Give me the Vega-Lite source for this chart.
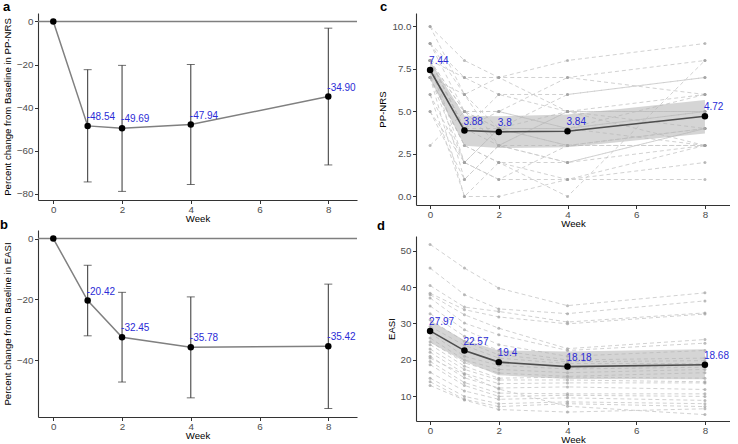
{
  "$schema": "https://vega.github.io/schema/vega-lite/v6.json",
  "padding": {"left": 0, "top": 1, "right": 0, "bottom": 0},
  "spacing": 19,
  "config": {
    "view": {"stroke": null},
    "font": "Liberation Sans",
    "axis": {"grid": false, "domainColor": "#333333", "domainWidth": 1.1, "tickColor": "#333333", "tickSize": 3.5, "tickWidth": 1, "labelColor": "#4d4d4d", "labelFontSize": 9.8, "labelFont": "Liberation Sans", "titleFont": "Liberation Sans", "titleFontSize": 9.6, "titleFontWeight": "normal", "titleColor": "#000000", "labelPadding": 1.5, "titlePadding": 3},
    "axisX": {"labelPadding": 0.5, "titlePadding": 0},
    "title": {"anchor": "start", "frame": "group", "fontSize": 13, "fontWeight": "bold", "font": "Liberation Sans", "color": "#000000"}
  },
  "datasets": {
    "a": [
      {"week": 0, "mean": 0, "label": ""},
      {"week": 1, "mean": -48.54, "lo": -74.6, "hi": -22.4, "label": "-48.54"},
      {"week": 2, "mean": -49.69, "lo": -79.0, "hi": -20.4, "label": "-49.69"},
      {"week": 4, "mean": -47.94, "lo": -75.8, "hi": -20.0, "label": "-47.94"},
      {"week": 8, "mean": -34.90, "lo": -66.7, "hi": -3.1, "label": "-34.90"}
    ],
    "b": [
      {"week": 0, "mean": 0, "label": ""},
      {"week": 1, "mean": -20.42, "lo": -32.0, "hi": -8.8, "label": "-20.42"},
      {"week": 2, "mean": -32.45, "lo": -47.2, "hi": -17.7, "label": "-32.45"},
      {"week": 4, "mean": -35.78, "lo": -52.4, "hi": -19.2, "label": "-35.78"},
      {"week": 8, "mean": -35.42, "lo": -55.9, "hi": -15.0, "label": "-35.42"}
    ],
    "cMean": [
      {"week": 0, "mean": 7.44, "lo": 6.9, "hi": 7.98, "label": "7.44"},
      {"week": 1, "mean": 3.88, "lo": 2.98, "hi": 4.75, "label": "3.88"},
      {"week": 2, "mean": 3.8, "lo": 2.85, "hi": 4.72, "label": "3.8"},
      {"week": 4, "mean": 3.84, "lo": 2.9, "hi": 4.82, "label": "3.84"},
      {"week": 8, "mean": 4.72, "lo": 3.71, "hi": 5.68, "label": "4.72"}
    ],
    "dMean": [
      {"week": 0, "mean": 27.97, "lo": 24.8, "hi": 30.8, "label": "27.97"},
      {"week": 1, "mean": 22.57, "lo": 19.6, "hi": 25.4, "label": "22.57"},
      {"week": 2, "mean": 19.4, "lo": 15.8, "hi": 22.6, "label": "19.4"},
      {"week": 4, "mean": 18.18, "lo": 14.8, "hi": 22.3, "label": "18.18"},
      {"week": 8, "mean": 18.68, "lo": 14.7, "hi": 22.9, "label": "18.68"}
    ],
    "cInd": [
      {"id": 1, "week": 0, "v": 10}, {"id": 1, "week": 1, "v": 8}, {"id": 1, "week": 2, "v": 7}, {"id": 1, "week": 4, "v": 8}, {"id": 1, "week": 8, "v": 9},
      {"id": 2, "week": 0, "v": 10}, {"id": 2, "week": 1, "v": 6}, {"id": 2, "week": 2, "v": 7}, {"id": 2, "week": 4, "v": 7}, {"id": 2, "week": 8, "v": 8},
      {"id": 3, "week": 0, "v": 9}, {"id": 3, "week": 1, "v": 7}, {"id": 3, "week": 2, "v": 6}, {"id": 3, "week": 4, "v": 6}, {"id": 3, "week": 8, "v": 7},
      {"id": 4, "week": 0, "v": 9}, {"id": 4, "week": 1, "v": 5}, {"id": 4, "week": 2, "v": 5}, {"id": 4, "week": 4, "v": 7}, {"id": 4, "week": 8, "v": 6},
      {"id": 5, "week": 0, "v": 9}, {"id": 5, "week": 1, "v": 6}, {"id": 5, "week": 2, "v": 4}, {"id": 5, "week": 4, "v": 6}, {"id": 5, "week": 8, "v": 7},
      {"id": 6, "week": 0, "v": 8}, {"id": 6, "week": 1, "v": 7}, {"id": 6, "week": 2, "v": 7}, {"id": 6, "week": 4, "v": 5}, {"id": 6, "week": 8, "v": 5},
      {"id": 7, "week": 0, "v": 8}, {"id": 7, "week": 1, "v": 5}, {"id": 7, "week": 2, "v": 3}, {"id": 7, "week": 4, "v": 5}, {"id": 7, "week": 8, "v": 6},
      {"id": 8, "week": 0, "v": 8}, {"id": 8, "week": 1, "v": 4}, {"id": 8, "week": 2, "v": 6}, {"id": 8, "week": 4, "v": 5}, {"id": 8, "week": 8, "v": 5},
      {"id": 9, "week": 0, "v": 8}, {"id": 9, "week": 1, "v": 4}, {"id": 9, "week": 2, "v": 5}, {"id": 9, "week": 4, "v": 4}, {"id": 9, "week": 8, "v": 6},
      {"id": 10, "week": 0, "v": 8}, {"id": 10, "week": 1, "v": 5}, {"id": 10, "week": 2, "v": 4}, {"id": 10, "week": 4, "v": 4}, {"id": 10, "week": 8, "v": 5},
      {"id": 11, "week": 0, "v": 8}, {"id": 11, "week": 1, "v": 4}, {"id": 11, "week": 2, "v": 3}, {"id": 11, "week": 4, "v": 3}, {"id": 11, "week": 8, "v": 4},
      {"id": 12, "week": 0, "v": 8}, {"id": 12, "week": 1, "v": 2}, {"id": 12, "week": 2, "v": 4}, {"id": 12, "week": 4, "v": 5}, {"id": 12, "week": 8, "v": 3},
      {"id": 13, "week": 0, "v": 8}, {"id": 13, "week": 1, "v": 4}, {"id": 13, "week": 2, "v": 4}, {"id": 13, "week": 4, "v": 3}, {"id": 13, "week": 8, "v": 4},
      {"id": 14, "week": 0, "v": 8}, {"id": 14, "week": 1, "v": 1}, {"id": 14, "week": 2, "v": 3}, {"id": 14, "week": 4, "v": 2}, {"id": 14, "week": 8, "v": 3},
      {"id": 15, "week": 0, "v": 7}, {"id": 15, "week": 1, "v": 3}, {"id": 15, "week": 2, "v": 2}, {"id": 15, "week": 4, "v": 0}, {"id": 15, "week": 8, "v": 8},
      {"id": 16, "week": 0, "v": 7}, {"id": 16, "week": 1, "v": 5}, {"id": 16, "week": 2, "v": 5}, {"id": 16, "week": 4, "v": 4}, {"id": 16, "week": 8, "v": 3},
      {"id": 17, "week": 0, "v": 7}, {"id": 17, "week": 1, "v": 2}, {"id": 17, "week": 2, "v": 1}, {"id": 17, "week": 4, "v": 1}, {"id": 17, "week": 8, "v": 1},
      {"id": 18, "week": 0, "v": 7}, {"id": 18, "week": 1, "v": 0}, {"id": 18, "week": 2, "v": 2}, {"id": 18, "week": 4, "v": 2}, {"id": 18, "week": 8, "v": 4},
      {"id": 19, "week": 0, "v": 7}, {"id": 19, "week": 1, "v": 3}, {"id": 19, "week": 2, "v": 2}, {"id": 19, "week": 4, "v": 1}, {"id": 19, "week": 8, "v": 3},
      {"id": 20, "week": 0, "v": 7}, {"id": 20, "week": 1, "v": 6}, {"id": 20, "week": 2, "v": 3}, {"id": 20, "week": 4, "v": 5}, {"id": 20, "week": 8, "v": 4},
      {"id": 21, "week": 0, "v": 6}, {"id": 21, "week": 1, "v": 2}, {"id": 21, "week": 2, "v": 1}, {"id": 21, "week": 4, "v": 3}, {"id": 21, "week": 8, "v": 3},
      {"id": 22, "week": 0, "v": 6}, {"id": 22, "week": 1, "v": 0}, {"id": 22, "week": 2, "v": 0}, {"id": 22, "week": 4, "v": 1}, {"id": 22, "week": 8, "v": 2},
      {"id": 23, "week": 0, "v": 5}, {"id": 23, "week": 1, "v": 1}, {"id": 23, "week": 2, "v": 3}, {"id": 23, "week": 4, "v": 2}, {"id": 23, "week": 8, "v": 4},
      {"id": 24, "week": 0, "v": 5}, {"id": 24, "week": 1, "v": 2}, {"id": 24, "week": 2, "v": 4}, {"id": 24, "week": 4, "v": 4}, {"id": 24, "week": 8, "v": 5},
      {"id": 25, "week": 0, "v": 3}, {"id": 25, "week": 1, "v": 5}, {"id": 25, "week": 2, "v": 4}, {"id": 25, "week": 4, "v": 3}, {"id": 25, "week": 8, "v": 3}
    ],
    "dInd": [
      {"id": 1, "week": 0, "v": 51.7}, {"id": 1, "week": 1, "v": 45.2}, {"id": 1, "week": 2, "v": 39.7}, {"id": 1, "week": 4, "v": 34.9}, {"id": 1, "week": 8, "v": 38.4},
      {"id": 2, "week": 0, "v": 45.2}, {"id": 2, "week": 1, "v": 37.9}, {"id": 2, "week": 2, "v": 34.0}, {"id": 2, "week": 4, "v": 32.7}, {"id": 2, "week": 8, "v": 36.2},
      {"id": 3, "week": 0, "v": 40.4}, {"id": 3, "week": 1, "v": 34.5}, {"id": 3, "week": 2, "v": 33.3}, {"id": 3, "week": 4, "v": 30.4}, {"id": 3, "week": 8, "v": 32.9},
      {"id": 4, "week": 0, "v": 38.3}, {"id": 4, "week": 1, "v": 33.8}, {"id": 4, "week": 2, "v": 31.8}, {"id": 4, "week": 4, "v": 29.9}, {"id": 4, "week": 8, "v": 32.6},
      {"id": 5, "week": 0, "v": 37.9}, {"id": 5, "week": 1, "v": 32.4}, {"id": 5, "week": 2, "v": 28.7}, {"id": 5, "week": 4, "v": 23.1}, {"id": 5, "week": 8, "v": 25.6},
      {"id": 6, "week": 0, "v": 37.0}, {"id": 6, "week": 1, "v": 30.1}, {"id": 6, "week": 2, "v": 26.9}, {"id": 6, "week": 4, "v": 22.6}, {"id": 6, "week": 8, "v": 24.6},
      {"id": 7, "week": 0, "v": 34.8}, {"id": 7, "week": 1, "v": 28.3}, {"id": 7, "week": 2, "v": 24.2}, {"id": 7, "week": 4, "v": 21.0}, {"id": 7, "week": 8, "v": 22.6},
      {"id": 8, "week": 0, "v": 32.7}, {"id": 8, "week": 1, "v": 26.5}, {"id": 8, "week": 2, "v": 22.6}, {"id": 8, "week": 4, "v": 20.0}, {"id": 8, "week": 8, "v": 20.5},
      {"id": 9, "week": 0, "v": 31.0}, {"id": 9, "week": 1, "v": 25.1}, {"id": 9, "week": 2, "v": 21.4}, {"id": 9, "week": 4, "v": 19.5}, {"id": 9, "week": 8, "v": 19.8},
      {"id": 10, "week": 0, "v": 29.2}, {"id": 10, "week": 1, "v": 24.0}, {"id": 10, "week": 2, "v": 20.5}, {"id": 10, "week": 4, "v": 19.0}, {"id": 10, "week": 8, "v": 19.0},
      {"id": 11, "week": 0, "v": 28.0}, {"id": 11, "week": 1, "v": 22.5}, {"id": 11, "week": 2, "v": 19.5}, {"id": 11, "week": 4, "v": 18.0}, {"id": 11, "week": 8, "v": 18.5},
      {"id": 12, "week": 0, "v": 27.4}, {"id": 12, "week": 1, "v": 21.0}, {"id": 12, "week": 2, "v": 18.5}, {"id": 12, "week": 4, "v": 17.5}, {"id": 12, "week": 8, "v": 18.0},
      {"id": 13, "week": 0, "v": 26.0}, {"id": 13, "week": 1, "v": 20.0}, {"id": 13, "week": 2, "v": 17.4}, {"id": 13, "week": 4, "v": 16.5}, {"id": 13, "week": 8, "v": 17.4},
      {"id": 14, "week": 0, "v": 25.0}, {"id": 14, "week": 1, "v": 19.2}, {"id": 14, "week": 2, "v": 16.4}, {"id": 14, "week": 4, "v": 15.5}, {"id": 14, "week": 8, "v": 16.5},
      {"id": 15, "week": 0, "v": 24.2}, {"id": 15, "week": 1, "v": 18.3}, {"id": 15, "week": 2, "v": 15.0}, {"id": 15, "week": 4, "v": 15.3}, {"id": 15, "week": 8, "v": 15.0},
      {"id": 16, "week": 0, "v": 23.0}, {"id": 16, "week": 1, "v": 17.4}, {"id": 16, "week": 2, "v": 14.5}, {"id": 16, "week": 4, "v": 14.5}, {"id": 16, "week": 8, "v": 14.0},
      {"id": 17, "week": 0, "v": 22.1}, {"id": 17, "week": 1, "v": 16.3}, {"id": 17, "week": 2, "v": 13.5}, {"id": 17, "week": 4, "v": 13.7}, {"id": 17, "week": 8, "v": 13.7},
      {"id": 18, "week": 0, "v": 21.0}, {"id": 18, "week": 1, "v": 15.1}, {"id": 18, "week": 2, "v": 12.3}, {"id": 18, "week": 4, "v": 12.6}, {"id": 18, "week": 8, "v": 11.9},
      {"id": 19, "week": 0, "v": 19.6}, {"id": 19, "week": 1, "v": 13.8}, {"id": 19, "week": 2, "v": 10.9}, {"id": 19, "week": 4, "v": 10.7}, {"id": 19, "week": 8, "v": 10.7},
      {"id": 20, "week": 0, "v": 18.7}, {"id": 20, "week": 1, "v": 13.0}, {"id": 20, "week": 2, "v": 10.0}, {"id": 20, "week": 4, "v": 10.3}, {"id": 20, "week": 8, "v": 10.0},
      {"id": 21, "week": 0, "v": 16.6}, {"id": 21, "week": 1, "v": 11.5}, {"id": 21, "week": 2, "v": 9.2}, {"id": 21, "week": 4, "v": 9.6}, {"id": 21, "week": 8, "v": 8.9},
      {"id": 22, "week": 0, "v": 15.0}, {"id": 22, "week": 1, "v": 10.0}, {"id": 22, "week": 2, "v": 8.0}, {"id": 22, "week": 4, "v": 8.5}, {"id": 22, "week": 8, "v": 8.0},
      {"id": 23, "week": 0, "v": 14.0}, {"id": 23, "week": 1, "v": 9.2}, {"id": 23, "week": 2, "v": 7.2}, {"id": 23, "week": 4, "v": 8.0}, {"id": 23, "week": 8, "v": 7.2},
      {"id": 24, "week": 0, "v": 13.0}, {"id": 24, "week": 1, "v": 9.0}, {"id": 24, "week": 2, "v": 6.4}, {"id": 24, "week": 4, "v": 5.7}, {"id": 24, "week": 8, "v": 6.6},
      {"id": 25, "week": 0, "v": 20.5}, {"id": 25, "week": 1, "v": 16.0}, {"id": 25, "week": 2, "v": 12.0}, {"id": 25, "week": 4, "v": 7.3}, {"id": 25, "week": 8, "v": 5.0}
    ]
  },
  "hconcat": [
    {
      "bounds": "flush",
      "spacing": 30,
      "vconcat": [
        {
          "width": 319, "height": 187,
          "title": {"text": "a", "dx": -35, "offset": -1},
          "data": {"name": "a"},
          "layer": [
            {"data": {"values": [{"z": 0}]}, "mark": {"type": "rule", "color": "#7f7f7f", "strokeWidth": 1.5}, "encoding": {"y": {"datum": 0, "type": "quantitative"}}},
            {"transform": [{"filter": "isValid(datum.lo)"}], "mark": {"type": "errorbar", "ticks": true, "size": 8, "thickness": 1, "color": "#333333"},
             "encoding": {"x": {"field": "week", "type": "quantitative", "scale": {"domain": [-0.445, 8.835], "nice": false, "zero": false}},
                          "y": {"field": "lo", "type": "quantitative", "title": "Percent change from Baseline in PP-NRS"}, "y2": {"field": "hi"}}},
            {"mark": {"type": "line", "color": "#808080", "strokeWidth": 1.5},
             "encoding": {"x": {"field": "week", "type": "quantitative", "title": "Week", "scale": {"domain": [-0.445, 8.835], "nice": false, "zero": false}, "axis": {"values": [0, 2, 4, 6, 8]}},
                          "y": {"field": "mean", "type": "quantitative", "title": "Percent change from Baseline in PP-NRS", "scale": {"domain": [-83, 3.95], "nice": false, "zero": false}, "axis": {"values": [0, -20, -40, -60, -80], "titlePadding": 4}}}},
            {"mark": {"type": "circle", "color": "#000000", "opacity": 1, "size": 42},
             "encoding": {"x": {"field": "week", "type": "quantitative"}, "y": {"field": "mean", "type": "quantitative"}}},
            {"transform": [{"filter": "datum.label != ''"}], "mark": {"type": "text", "align": "left", "baseline": "middle", "dx": -1, "dy": -9, "color": "#2b2bd6", "fontSize": 10, "font": "Liberation Sans"},
             "encoding": {"x": {"field": "week", "type": "quantitative"}, "y": {"field": "mean", "type": "quantitative"}, "text": {"field": "label"}}}
          ]
        },
        {
          "width": 319, "height": 187,
          "title": {"text": "b", "dx": -38, "offset": -2},
          "data": {"name": "b"},
          "layer": [
            {"data": {"values": [{"z": 0}]}, "mark": {"type": "rule", "color": "#7f7f7f", "strokeWidth": 1.5}, "encoding": {"y": {"datum": 0, "type": "quantitative"}}},
            {"transform": [{"filter": "isValid(datum.lo)"}], "mark": {"type": "errorbar", "ticks": true, "size": 8, "thickness": 1, "color": "#333333"},
             "encoding": {"x": {"field": "week", "type": "quantitative", "scale": {"domain": [-0.445, 8.835], "nice": false, "zero": false}},
                          "y": {"field": "lo", "type": "quantitative", "title": "Percent change from Baseline in EASI"}, "y2": {"field": "hi"}}},
            {"mark": {"type": "line", "color": "#808080", "strokeWidth": 1.5},
             "encoding": {"x": {"field": "week", "type": "quantitative", "title": "Week", "scale": {"domain": [-0.445, 8.835], "nice": false, "zero": false}, "axis": {"values": [0, 2, 4, 6, 8]}},
                          "y": {"field": "mean", "type": "quantitative", "title": "Percent change from Baseline in EASI", "scale": {"domain": [-58.7, 2.8], "nice": false, "zero": false}, "axis": {"values": [0, -20, -40], "titlePadding": 4}}}},
            {"mark": {"type": "circle", "color": "#000000", "opacity": 1, "size": 42},
             "encoding": {"x": {"field": "week", "type": "quantitative"}, "y": {"field": "mean", "type": "quantitative"}}},
            {"transform": [{"filter": "datum.label != ''"}], "mark": {"type": "text", "align": "left", "baseline": "middle", "dx": -1, "dy": -9, "color": "#2b2bd6", "fontSize": 10, "font": "Liberation Sans"},
             "encoding": {"x": {"field": "week", "type": "quantitative"}, "y": {"field": "mean", "type": "quantitative"}, "text": {"field": "label"}}}
          ]
        }
      ]
    },
    {
      "bounds": "flush",
      "spacing": 31,
      "vconcat": [
        {
          "width": 314, "height": 192,
          "title": {"text": "c", "dx": -36, "offset": -1},
          "layer": [
            {"data": {"name": "cInd"}, "mark": {"type": "line", "color": "#cccccc", "strokeWidth": 0.9, "strokeDash": [4, 3]},
             "encoding": {"x": {"field": "week", "type": "quantitative", "title": "Week", "scale": {"domain": [-0.41, 8.73], "nice": false, "zero": false}, "axis": {"values": [0, 2, 4, 6, 8]}},
                          "y": {"field": "v", "type": "quantitative", "title": "PP-NRS", "scale": {"domain": [-0.5, 10.794], "nice": false, "zero": false}, "axis": {"values": [0, 2.5, 5, 7.5, 10], "format": ".1f", "titlePadding": 4}},
                          "detail": {"field": "id", "type": "nominal"}}},
            {"data": {"name": "cInd"}, "mark": {"type": "circle", "color": "#a0a0a0", "opacity": 0.7, "size": 9},
             "encoding": {"x": {"field": "week", "type": "quantitative"}, "y": {"field": "v", "type": "quantitative"}}},
            {"data": {"name": "cMean"}, "mark": {"type": "area", "color": "#b3b3b3", "opacity": 0.55},
             "encoding": {"x": {"field": "week", "type": "quantitative"}, "y": {"field": "lo", "type": "quantitative"}, "y2": {"field": "hi"}}},
            {"data": {"name": "cMean"}, "mark": {"type": "line", "color": "#4d4d4d", "strokeWidth": 1.6},
             "encoding": {"x": {"field": "week", "type": "quantitative"}, "y": {"field": "mean", "type": "quantitative"}}},
            {"data": {"name": "cMean"}, "mark": {"type": "circle", "color": "#000000", "opacity": 1, "size": 42},
             "encoding": {"x": {"field": "week", "type": "quantitative"}, "y": {"field": "mean", "type": "quantitative"}}},
            {"data": {"name": "cMean"}, "mark": {"type": "text", "align": "left", "baseline": "middle", "dx": -1, "dy": -9, "color": "#2b2bd6", "fontSize": 10, "font": "Liberation Sans"},
             "encoding": {"x": {"field": "week", "type": "quantitative"}, "y": {"field": "mean", "type": "quantitative"}, "text": {"field": "label"}}}
          ]
        },
        {
          "width": 314, "height": 185,
          "title": {"text": "d", "dx": -39, "offset": 3},
          "layer": [
            {"data": {"name": "dInd"}, "mark": {"type": "line", "color": "#cccccc", "strokeWidth": 0.9, "strokeDash": [4, 3]},
             "encoding": {"x": {"field": "week", "type": "quantitative", "title": "Week", "scale": {"domain": [-0.41, 8.73], "nice": false, "zero": false}, "axis": {"values": [0, 2, 4, 6, 8]}},
                          "y": {"field": "v", "type": "quantitative", "title": "EASI", "scale": {"domain": [3.25, 54.0], "nice": false, "zero": false}, "axis": {"values": [10, 20, 30, 40, 50], "titlePadding": 4}},
                          "detail": {"field": "id", "type": "nominal"}}},
            {"data": {"name": "dInd"}, "mark": {"type": "circle", "color": "#a0a0a0", "opacity": 0.7, "size": 9},
             "encoding": {"x": {"field": "week", "type": "quantitative"}, "y": {"field": "v", "type": "quantitative"}}},
            {"data": {"name": "dMean"}, "mark": {"type": "area", "color": "#b3b3b3", "opacity": 0.55},
             "encoding": {"x": {"field": "week", "type": "quantitative"}, "y": {"field": "lo", "type": "quantitative"}, "y2": {"field": "hi"}}},
            {"data": {"name": "dMean"}, "mark": {"type": "line", "color": "#4d4d4d", "strokeWidth": 1.6},
             "encoding": {"x": {"field": "week", "type": "quantitative"}, "y": {"field": "mean", "type": "quantitative"}}},
            {"data": {"name": "dMean"}, "mark": {"type": "circle", "color": "#000000", "opacity": 1, "size": 42},
             "encoding": {"x": {"field": "week", "type": "quantitative"}, "y": {"field": "mean", "type": "quantitative"}}},
            {"data": {"name": "dMean"}, "mark": {"type": "text", "align": "left", "baseline": "middle", "dx": -1, "dy": -9, "color": "#2b2bd6", "fontSize": 10, "font": "Liberation Sans"},
             "encoding": {"x": {"field": "week", "type": "quantitative"}, "y": {"field": "mean", "type": "quantitative"}, "text": {"field": "label"}}}
          ]
        }
      ]
    }
  ]
}
